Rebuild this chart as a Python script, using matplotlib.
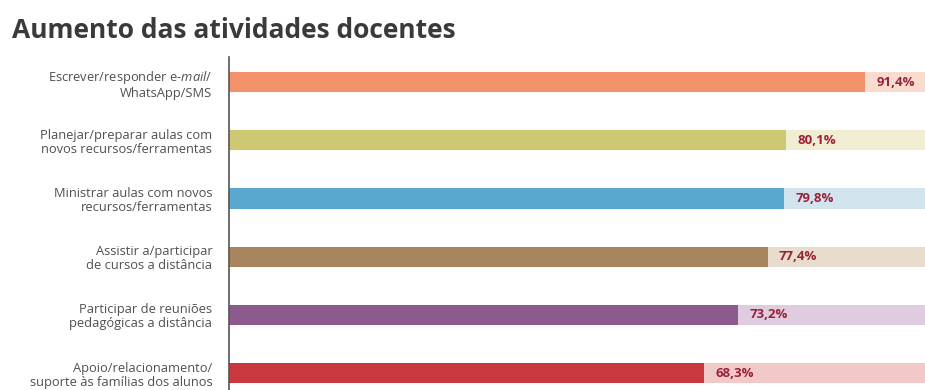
import matplotlib
matplotlib.use("Agg")
import matplotlib.pyplot as plt

plt.rcParams['font.family'] = ['Open Sans', 'DejaVu Sans']
plt.rcParams['mathtext.fontset'] = 'custom'
plt.rcParams['mathtext.it'] = 'Open Sans:italic'
plt.rcParams['mathtext.rm'] = 'Open Sans'

categorias = [
    "Escrever/responder e-$\\it{mail}$/\nWhatsApp/SMS",
    "Planejar/preparar aulas com\nnovos recursos/ferramentas",
    "Ministrar aulas com novos\nrecursos/ferramentas",
    "Assistir a/participar\nde cursos a distância",
    "Participar de reuniões\npedagógicas a distância",
    "Apoio/relacionamento/\nsuporte às famílias dos alunos",
]
valores = [91.4, 80.1, 79.8, 77.4, 73.2, 68.3]
rotulos = ["91,4%", "80,1%", "79,8%", "77,4%", "73,2%", "68,3%"]
cores = ["#F2916A", "#CFC872", "#5AA8CF", "#A8855F", "#8D5A8D", "#C9383E"]
cores_fundo = ["#FADCCF", "#F0EDD2", "#D2E5EF", "#E8DCCD", "#DFCDDF", "#F2C9C9"]

fig = plt.figure(figsize=(9.25, 3.9), dpi=100)
ax = fig.add_axes([229/925, 0, 696/925, (390-57)/390])

y = list(range(len(valores)))
ax.barh(y, [100]*len(valores), height=0.345, color=cores_fundo, zorder=1)
ax.barh(y, valores, height=0.345, color=cores, zorder=2)

for i, v in enumerate(valores):
    ax.text(v + 1.6, i, rotulos[i], ha='left', va='center', fontsize=9.5,
            fontweight='bold', color='#9A2238', zorder=3)

ax.set_xlim(0, 100)
ax.set_ylim(5.29, -0.43)
ax.set_yticks(y)
ax.set_yticklabels(categorias, fontsize=9.3, color='#505050', linespacing=1.1)
ax.tick_params(axis='y', length=0, pad=12)
ax.set_xticks([])
for s in ['top', 'right', 'bottom']:
    ax.spines[s].set_visible(False)
ax.spines['left'].set_color('#555555')
ax.spines['left'].set_linewidth(1.2)

fig.text(12/925, 1 - 38/390, "Aumento das atividades docentes", fontsize=19,
         fontweight='bold', color='#3a3a3a', ha='left', va='baseline')

fig.savefig('out.png', dpi=100)
